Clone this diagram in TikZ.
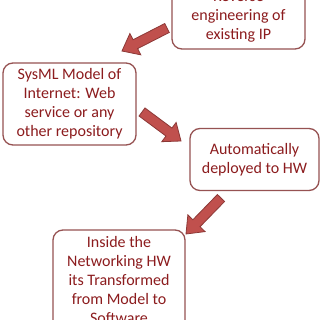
\documentclass[tikz,border=0pt]{standalone}
\usepackage{fontspec}
\setmainfont{Carlito}
\usetikzlibrary{calc}
\definecolor{boxedge}{RGB}{150,82,82}
\definecolor{txtred}{RGB}{140,28,30}
\definecolor{arrfill}{RGB}{192,80,77}
\definecolor{arredge}{RGB}{140,56,54}
\newcommand\blockarr[2]{%
  \coordinate (hb) at ($(#2)!15pt!(#1)$);
  \draw[arredge, fill=arrfill, line width=0.8pt, line join=miter]
    ($(#1)!5pt!90:(#2)$) -- ($(hb)!5pt!90:(#2)$) -- ($(hb)!12pt!90:(#2)$) --
    (#2) -- ($(hb)!12pt!-90:(#2)$) -- ($(hb)!5pt!-90:(#2)$) -- ($(#1)!5pt!-90:(#2)$) -- cycle;}
\begin{document}
\begin{tikzpicture}[x=1pt,y=-1pt,
  stepbox/.style={draw=boxedge, line width=1.3pt, rounded corners=10pt, fill=white,
    text=txtred, align=center, inner sep=0pt,
    font=\fontsize{16}{19}\selectfont}]
\useasboundingbox (0,0) rectangle (320,320);
\clip (0,0) rectangle (320,320);
\fill[white] (0,0) rectangle (320,320);
\node[stepbox, minimum width=133pt, minimum height=64pt] (b1) at (238.5,17) {Reverse\\engineering of\\existing IP};
\node[stepbox, minimum width=133pt, minimum height=82pt] (b2) at (69.5,104) {SysML Model of\\Internet: Web\\service or any\\other repository};
\node[stepbox, minimum width=129pt, minimum height=62pt] (b3) at (254.5,159.5) {Automatically\\deployed to HW};
\node[stepbox, minimum width=132pt, minimum height=100pt] (b4) at (119,280) {Inside the\\Networking HW\\its Transformed\\from Model to\\Software};
\coordinate (t1) at (167,28); \coordinate (p1) at (122,51);
\coordinate (t2) at (142,112); \coordinate (p2) at (181,141);
\coordinate (t3) at (221,198); \coordinate (p3) at (186,234);
\blockarr{t1}{p1}
\blockarr{t2}{p2}
\blockarr{t3}{p3}
\end{tikzpicture}
\end{document}
